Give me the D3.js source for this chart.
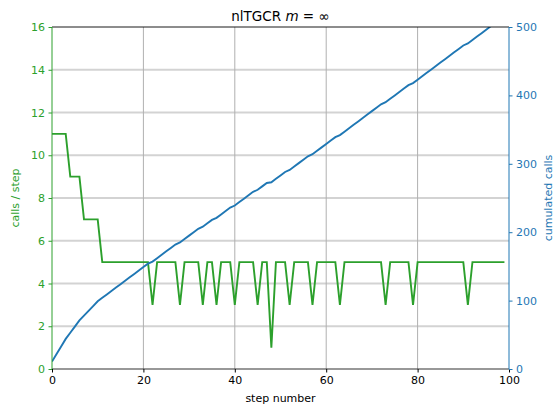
<!DOCTYPE html>
<html>
<head>
<meta charset="utf-8">
<script src="https://cdn.jsdelivr.net/npm/d3@7"></script>
<style>
  body { margin: 0; background: #fff; }
  svg text { font-family: "DejaVu Sans", sans-serif; }
</style>
</head>
<body>
<svg id="chart" width="559" height="407"></svg>
<script>
// Function calls needed at each nonlinear step (steps 0..99)
const callsPerStep = [
  11, 11, 11, 11, 9, 9, 9, 7, 7, 7,
  7, 5, 5, 5, 5, 5, 5, 5, 5, 5,
  5, 5, 3, 5, 5, 5, 5, 5, 3, 5,
  5, 5, 5, 3, 5, 5, 3, 5, 5, 5,
  3, 5, 5, 5, 5, 3, 5, 5, 1, 5,
  5, 5, 3, 5, 5, 5, 5, 3, 5, 5,
  5, 5, 5, 3, 5, 5, 5, 5, 5, 5,
  5, 5, 5, 3, 5, 5, 5, 5, 5, 3,
  5, 5, 5, 5, 5, 5, 5, 5, 5, 5,
  5, 3, 5, 5, 5, 5, 5, 5, 5, 5
];
const leftTicks = [0, 2, 4, 6, 8, 10, 12, 14, 16];
const rightTicks = [0, 100, 200, 300, 400, 500];
const xTicks = [0, 20, 40, 60, 80, 100];

const steps = callsPerStep.map((_, i) => i);
const cumulated = d3.cumsum(callsPerStep);

const green = "#2ca02c", blue = "#1f77b4";
const m = { left: 52, right: 50, top: 27, bottom: 38 };
const W = 559, H = 407;
const iw = W - m.left - m.right, ih = H - m.top - m.bottom;

const svg = d3.select("#chart");
const g = svg.append("g").attr("transform", `translate(${m.left},${m.top})`);

const x = d3.scaleLinear().domain([0, 100]).range([0, iw]);
const yL = d3.scaleLinear().domain([0, 16]).range([ih, 0]);
const yR = d3.scaleLinear().domain([0, 500]).range([ih, 0]);

// grid: horizontal from the left axis, vertical from the x axis
g.append("g").selectAll("line").data(leftTicks.slice(1, -1)).join("line")
  .attr("x1", 0).attr("x2", iw)
  .attr("y1", d => yL(d)).attr("y2", d => yL(d))
  .attr("stroke", "#d3d3d3").attr("stroke-width", 1.8);
g.append("g").selectAll("line").data(xTicks.slice(1, -1)).join("line")
  .attr("x1", d => x(d)).attr("x2", d => x(d))
  .attr("y1", 0).attr("y2", ih)
  .attr("stroke", "#b0b0b0").attr("stroke-width", 1);

g.append("clipPath").attr("id", "clip")
  .append("rect").attr("width", iw).attr("height", ih);

const plot = g.append("g").attr("clip-path", "url(#clip)");
plot.append("path")
  .datum(steps)
  .attr("fill", "none").attr("stroke", green).attr("stroke-width", 1.9)
  .attr("d", d3.line().x(i => x(i)).y(i => yL(callsPerStep[i])));
plot.append("path")
  .datum(steps)
  .attr("fill", "none").attr("stroke", blue).attr("stroke-width", 1.9)
  .attr("d", d3.line().x(i => x(i)).y(i => yR(cumulated[i])));

// spines
g.append("line").attr("x1", 0).attr("x2", iw).attr("y1", 0).attr("y2", 0)
  .attr("stroke", "#000").attr("stroke-width", 0.9);
g.append("line").attr("x1", 0).attr("x2", iw).attr("y1", ih).attr("y2", ih)
  .attr("stroke", "#333").attr("stroke-width", 1.2);
g.append("line").attr("x1", 0).attr("x2", 0).attr("y1", 0).attr("y2", ih)
  .attr("stroke", green).attr("stroke-width", 1);
g.append("line").attr("x1", iw).attr("x2", iw).attr("y1", 0).attr("y2", ih)
  .attr("stroke", blue).attr("stroke-width", 1);

function styleAxis(sel, color) {
  sel.select(".domain").remove();
  sel.selectAll(".tick line").attr("stroke", color);
  sel.selectAll(".tick text").attr("fill", color)
    .style("font-family", "DejaVu Sans, sans-serif").style("font-size", "11px");
}

g.append("g").attr("transform", `translate(0,${ih})`)
  .call(d3.axisBottom(x).tickValues(xTicks).tickSize(3.5).tickPadding(3.5))
  .call(s => styleAxis(s, "#000"));
g.append("g")
  .call(d3.axisLeft(yL).tickValues(leftTicks).tickSize(3.5).tickPadding(3.5))
  .call(s => styleAxis(s, green));
g.append("g").attr("transform", `translate(${iw},0)`)
  .call(d3.axisRight(yR).tickValues(rightTicks).tickSize(3.5).tickPadding(3.5))
  .call(s => styleAxis(s, blue));

// labels
svg.append("text").attr("x", m.left + iw / 2).attr("y", 402)
  .attr("text-anchor", "middle").style("font-size", "11px").attr("fill", "#000")
  .text("step number");
svg.append("text")
  .attr("transform", `translate(19,${m.top + ih / 2}) rotate(-90)`)
  .attr("text-anchor", "middle").style("font-size", "11px").attr("fill", green)
  .text("calls / step");
svg.append("text")
  .attr("transform", `translate(552,${m.top + ih / 2}) rotate(-90)`)
  .attr("text-anchor", "middle").style("font-size", "11px").attr("fill", blue)
  .text("cumulated calls");

const title = svg.append("text").attr("x", m.left + iw / 2).attr("y", 21)
  .attr("text-anchor", "middle").style("font-size", "13.5px").attr("fill", "#000");
title.append("tspan").text("nlTGCR ");
title.append("tspan").style("font-style", "italic").text("m");
title.append("tspan").text(" = ∞");
</script>
</body>
</html>
